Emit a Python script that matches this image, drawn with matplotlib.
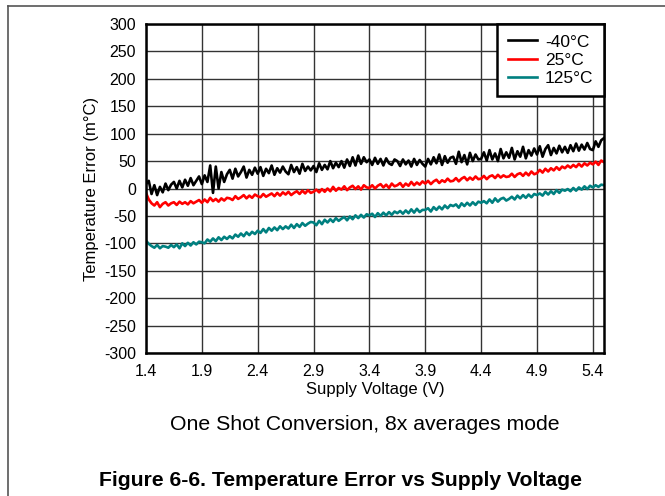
import numpy as np
import matplotlib.pyplot as plt
from matplotlib.lines import Line2D

plt.rcParams['font.family'] = ['Liberation Sans', 'DejaVu Sans']
plt.rcParams['axes.unicode_minus'] = False

# supply voltage sweep, 25 mV steps from 1.4 V to 5.5 V
voltage = np.round(np.linspace(1.4, 5.5, 165), 3)

err_m40 = [
    8, 14, -10, 6, -12, 3, -7, 9, -3, 7,
    12, 0, 14, 2, 16, 5, 19, 6, 14, 22,
    8, 24, 12, 42, -8, 40, 0, 30, 12, 26,
    34, 18, 36, 22, 30, 40, 20, 34, 25, 38,
    27, 39, 23, 36, 28, 42, 25, 37, 29, 40,
    31, 26, 43, 30, 39, 27, 45, 32, 40, 33,
    41, 30, 46, 34, 43, 35, 50, 37, 47, 39,
    50, 38, 53, 41, 57, 42, 60, 45, 57, 48,
    53, 43, 56, 45, 54, 42, 55, 46, 43, 53,
    50, 41, 53, 44, 51, 40, 54, 43, 52, 45,
    40, 54, 44, 57, 46, 62, 43, 59, 47, 56,
    58, 45, 67, 48, 61, 44, 65, 50, 62, 53,
    54, 66, 51, 70, 53, 64, 50, 72, 55, 66,
    56, 74, 53, 68, 58, 76, 55, 70, 60, 73,
    62, 77, 58, 72, 79, 61, 74, 64, 78, 66,
    76, 65, 79, 68, 82, 69, 80, 71, 83, 72,
    70, 86, 76, 88, 92,
]

err_25 = [
    -8, -20, -27, -31, -25, -34, -28, -25, -31, -27,
    -25, -30, -24, -28, -25, -29, -23, -27, -24, -21,
    -26, -20, -25, -17, -23, -19, -24, -18, -22, -17,
    -18, -21, -14, -19, -16, -12, -18, -13, -17, -11,
    -14, -16, -10, -15, -12, -9, -14, -8, -13, -7,
    -11, -6, -12, -8, -5, -10, -4, -9, -3, -8,
    -6, -2, -7, -1, -6, 0, -5, 3, -4, 1,
    -2, 4, -3, 2, 5, -1, 4, -2, 6, 2,
    1, 6, 0, 5, 8, 2, 7, 1, 9, 4,
    6, 10, 3, 9, 5, 12, 6, 11, 7, 13,
    9, 14, 8, 13, 16, 10, 15, 12, 18, 13,
    14, 19, 13, 18, 21, 15, 20, 16, 22, 17,
    18, 23, 17, 22, 24, 19, 25, 20, 24, 21,
    22, 27, 21, 26, 28, 23, 29, 24, 31, 26,
    28, 34, 29, 36, 31, 37, 33, 39, 34, 40,
    37, 42, 38, 43, 39, 45, 40, 46, 42, 47,
    44, 49, 43, 51, 48,
]

err_125 = [
    -95, -101, -105, -108, -103, -109, -105, -106, -108, -103,
    -107, -102, -109, -100, -105, -99, -104, -98, -102, -97,
    -98, -100, -93, -97, -91, -96, -89, -94, -88, -92,
    -87, -91, -84, -88, -82, -87, -80, -85, -79, -83,
    -77, -81, -74, -80, -72, -77, -71, -76, -69, -74,
    -69, -73, -66, -72, -65, -70, -63, -68, -64, -61,
    -62, -67, -59, -65, -57, -62, -56, -61, -54, -59,
    -55, -52, -58, -51, -56, -49, -54, -48, -53, -47,
    -49, -46, -52, -45, -50, -44, -49, -43, -48, -42,
    -45, -41, -46, -40, -45, -38, -44, -37, -43, -39,
    -39, -36, -42, -34, -39, -33, -38, -31, -36, -30,
    -32, -29, -35, -27, -32, -26, -31, -25, -30, -24,
    -26, -23, -27, -20, -26, -18, -24, -19, -17, -22,
    -19, -15, -20, -13, -18, -12, -17, -11, -16, -10,
    -12, -9, -13, -6, -11, -5, -10, -3, -8, -2,
    -4, -1, -5, 1, -4, 2, -2, 4, -1, 5,
    2, 6, 3, 7, 6,
]

x_ticks = [1.4, 1.9, 2.4, 2.9, 3.4, 3.9, 4.4, 4.9, 5.4]
y_ticks = list(range(-300, 301, 50))

fig = plt.figure(figsize=(6.65, 4.96), dpi=100)
ax = fig.add_axes([0.2195, 0.2883, 0.6888, 0.6633])

ax.plot(voltage, err_m40, color='black', lw=1.9, label='-40°C')
ax.plot(voltage, err_25, color='#ff0000', lw=1.9, label='25°C')
ax.plot(voltage, err_125, color='#008080', lw=1.9, label='125°C')

ax.set_xlim(1.4, 5.5)
ax.set_ylim(-300, 300)
ax.set_xticks(x_ticks)
ax.set_xticklabels([f'{t:.1f}' for t in x_ticks])
ax.set_yticks(y_ticks)
ax.tick_params(axis='x', length=0, labelsize=11.5, pad=8)
ax.tick_params(axis='y', length=0, labelsize=11.5, pad=7)
ax.grid(True, color='#333333', lw=1.0)
for s in ax.spines.values():
    s.set_linewidth(1.8)
    s.set_color('black')

ax.set_xlabel('Supply Voltage (V)', fontsize=12, labelpad=2)
ax.set_ylabel('Temperature Error (m°C)', fontsize=12, labelpad=4)

leg = ax.legend(loc='upper right', borderaxespad=0, fancybox=False,
                fontsize=12.5, handlelength=1.7, handletextpad=0.45,
                labelspacing=0.17, borderpad=0.6)
leg.get_frame().set_edgecolor('black')
leg.get_frame().set_linewidth(1.8)
leg.get_frame().set_alpha(1)

fig.text(0.549, 1 - 424 / 496, 'One Shot Conversion, 8x averages mode',
         ha='center', va='center', fontsize=15.3)
fig.text(0.512, 1 - 480 / 496, 'Figure 6-6. Temperature Error vs Supply Voltage',
         ha='center', va='center', fontsize=15.2, fontweight='bold')

# page frame
fig.add_artist(Line2D([8 / 665, 1], [1 - 6 / 496] * 2, color='#555555', lw=1.2))
fig.add_artist(Line2D([8 / 665] * 2, [0, 1 - 6 / 496], color='#555555', lw=1.2))

fig.savefig('out.png', dpi=100)
